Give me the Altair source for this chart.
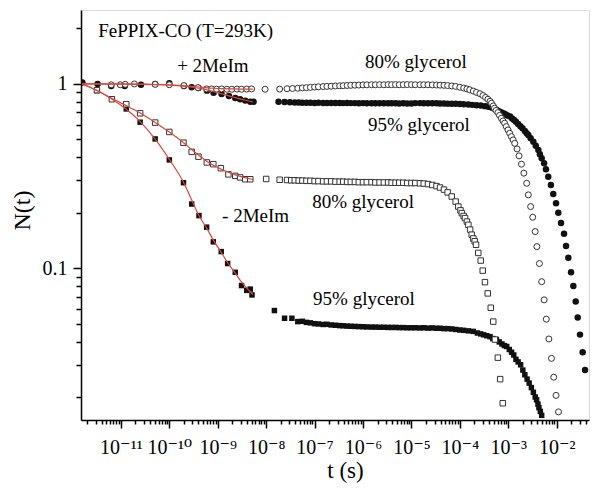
import json
import altair as alt
import pandas as pd

# ---------------- values ----------------
# fast time window (before the gap), t in s, N(t)
OC_EARLY_T = [6.3e-12, 9.7e-12, 1.23e-11, 1.9e-11, 5.1e-11, 1.0e-10, 2.0e-10, 3.9e-10, 5.9e-10,
              7.5e-10, 9.5e-10, 1.2e-9, 1.55e-9, 1.95e-9, 2.5e-9, 3.1e-9, 3.96e-9, 5.0e-9]
OC_EARLY_N = [0.99, 0.99, 0.995, 1.0, 0.995, 0.99, 0.98, 0.955, 0.94, 0.94, 0.937, 0.94, 0.936,
              0.936, 0.938, 0.936, 0.938, 0.94]
FC_EARLY_T = [1.6e-12, 3.3e-12, 6.3e-12, 1.2e-11, 2.6e-11, 5.1e-11, 1.0e-10, 2.0e-10, 2.9e-10,
              4.0e-10, 6.0e-10, 8.2e-10, 1.2e-9, 1.7e-9, 2.3e-9, 2.9e-9, 3.7e-9, 4.7e-9, 5.5e-9]
FC_EARLY_N = [1.02, 1.0, 0.975, 0.975, 0.99, 1.0, 1.01, 0.975, 0.96, 0.951, 0.92, 0.897, 0.883,
              0.861, 0.839, 0.826, 0.812, 0.80, 0.80]
OS_EARLY_T = [3.2e-12, 6.5e-12, 1.29e-11, 2.5e-11, 5.1e-11, 1.0e-10, 1.96e-10, 2.9e-10, 4.0e-10,
              5.95e-10, 8.1e-10, 1.16e-9, 1.66e-9, 2.3e-9, 2.9e-9, 3.7e-9, 4.7e-9]
OS_EARLY_N = [0.925, 0.826, 0.776, 0.693, 0.617, 0.549, 0.48, 0.428, 0.403, 0.375, 0.367, 0.349,
              0.323, 0.317, 0.311, 0.304, 0.304]
FS_EARLY_T = [1.5e-12, 3.2e-12, 6.5e-12, 1.29e-11, 2.5e-11, 5.1e-11, 1.0e-10, 1.96e-10, 2.9e-10,
              4.1e-10, 5.9e-10, 8.1e-10, 1.18e-9, 1.6e-9, 2.3e-9, 3.1e-9, 3.97e-9, 4.7e-9, 5.1e-9]
FS_EARLY_N = [1.016, 0.92, 0.829, 0.732, 0.62, 0.503, 0.387, 0.291, 0.223, 0.193, 0.167, 0.139,
              0.123, 0.106, 0.095, 0.0805, 0.0758, 0.077, 0.0716]

# slow window: first sparse points of each series
OC_LEAD_T = [9.5e-9, 1.9e-8, 2.7e-8, 3.5e-8, 4.5e-8]
OC_LEAD_N = [0.936, 0.938, 0.942, 0.945, 0.948]
FC_LEAD_T = [1.8e-8, 2.4e-8, 3.1e-8, 3.9e-8, 4.7e-8]
FC_LEAD_N = [0.80, 0.797, 0.795, 0.793, 0.792]
OS_LEAD_T = [1.0e-8, 1.9e-8, 2.7e-8, 3.3e-8, 3.9e-8, 4.7e-8]
OS_LEAD_N = [0.305, 0.302, 0.301, 0.300, 0.300, 0.299]
FS_LEAD_T = [1.48e-8, 2.4e-8, 3.4e-8, 4.5e-8]
FS_LEAD_N = [0.0589, 0.0535, 0.0535, 0.0513]

# slow window: plateau sampled on a common time grid
T_MID = [5.6e-8, 6.8e-8, 8.2e-8, 1.0e-7, 1.2e-7, 1.5e-7, 1.8e-7, 2.2e-7, 2.7e-7, 3.3e-7, 3.9e-7,
         4.7e-7, 5.6e-7, 6.8e-7, 8.2e-7, 1.0e-6, 1.2e-6, 1.5e-6, 1.8e-6, 2.2e-6, 2.7e-6, 3.3e-6,
         3.9e-6, 4.7e-6, 5.6e-6, 6.8e-6, 8.2e-6, 1.0e-5]
OC_MID_N = [0.952, 0.955, 0.958, 0.962, 0.965, 0.968, 0.97, 0.972, 0.975, 0.977, 0.979, 0.981,
            0.983, 0.985, 0.986, 0.988, 0.989, 0.99, 0.99, 0.991, 0.99, 0.992, 0.991, 0.992, 0.99,
            0.991, 0.992, 0.991]
FC_MID_N = [0.791, 0.79, 0.79, 0.789, 0.79, 0.789, 0.788, 0.789, 0.788, 0.788, 0.787, 0.788,
            0.787, 0.787, 0.786, 0.787, 0.786, 0.786, 0.786, 0.785, 0.786, 0.785, 0.785, 0.785,
            0.784, 0.785, 0.784, 0.784]
OS_MID_N = [0.299, 0.298, 0.298, 0.297, 0.297, 0.296, 0.296, 0.296, 0.295, 0.295, 0.295, 0.294,
            0.294, 0.294, 0.293, 0.293, 0.293, 0.293, 0.292, 0.292, 0.292, 0.292, 0.291, 0.291,
            0.291, 0.291, 0.29, 0.29]
FS_MID_N = [0.0515, 0.0508, 0.0505, 0.05, 0.0498, 0.0495, 0.0496, 0.0492, 0.049, 0.0488, 0.0487,
            0.0485, 0.0484, 0.0483, 0.0482, 0.0481, 0.048, 0.0479, 0.0479, 0.0478, 0.0478, 0.0477,
            0.0477, 0.0477, 0.0476, 0.0476, 0.0475, 0.0475]

# slow window: end of plateau and final decay
OC_TAIL_T = [1.2e-5, 1.5e-5, 1.8e-5, 2.2e-5, 2.7e-5, 3.3e-5, 3.9e-5, 4.7e-5, 5.6e-5, 6.8e-5, 8.2e-5,
             1.0e-4, 1.2e-4, 1.4e-4, 1.6e-4, 1.9e-4, 2.2e-4, 2.6e-4, 3.0e-4, 3.4e-4, 3.8e-4, 4.2e-4,
             4.5e-4, 4.9e-4, 5.2e-4, 5.6e-4, 6.1e-4, 6.6e-4, 7.2e-4, 7.8e-4, 8.4e-4, 9.1e-4, 9.9e-4,
             1.07e-3, 1.16e-3, 1.26e-3, 1.36e-3, 1.52e-3, 1.67e-3, 1.87e-3, 2.1e-3, 2.4e-3, 2.6e-3,
             2.9e-3, 3.2e-3, 3.6e-3, 3.9e-3, 4.4e-3, 4.9e-3, 5.5e-3, 6.1e-3, 6.9e-3, 7.8e-3, 8.7e-3,
             9.7e-3, 1.09e-2]
OC_TAIL_N = [0.99, 0.99, 0.99, 0.99, 0.988, 0.987, 0.985, 0.983, 0.98, 0.975, 0.97, 0.96, 0.95,
             0.94, 0.93, 0.915, 0.9, 0.885, 0.865, 0.845, 0.826, 0.805, 0.786, 0.76, 0.738, 0.718,
             0.699, 0.675, 0.651, 0.63, 0.612, 0.587, 0.563, 0.54, 0.518, 0.497, 0.476, 0.444, 0.407,
             0.367, 0.328, 0.289, 0.25, 0.216, 0.189, 0.158, 0.131, 0.106, 0.0845, 0.0673, 0.0529,
             0.0413, 0.0324, 0.0256, 0.0204, 0.0166]
FC_TAIL_T = [1.2e-5, 1.5e-5, 1.8e-5, 2.2e-5, 2.7e-5, 3.3e-5, 3.9e-5, 4.7e-5, 5.6e-5, 6.8e-5, 8.2e-5,
             1.0e-4, 1.2e-4, 1.5e-4, 1.8e-4, 2.2e-4, 2.7e-4, 3.3e-4, 3.8e-4, 4.2e-4, 4.7e-4, 5.2e-4,
             5.8e-4, 6.4e-4, 7.1e-4, 7.9e-4, 8.7e-4, 9.7e-4, 1.09e-3, 1.2e-3, 1.32e-3, 1.44e-3,
             1.6e-3, 1.78e-3, 1.97e-3, 2.2e-3, 2.4e-3, 2.6e-3, 2.9e-3, 3.3e-3, 3.7e-3, 4.18e-3,
             4.5e-3, 4.9e-3, 5.5e-3, 6.0e-3, 6.7e-3, 7.6e-3, 8.5e-3, 9.7e-3, 1.08e-2, 1.23e-2,
             1.42e-2, 1.56e-2, 1.74e-2, 1.98e-2, 2.21e-2, 2.47e-2, 2.72e-2, 3.03e-2, 3.44e-2, 3.85e-2]
FC_TAIL_N = [0.787, 0.787, 0.786, 0.786, 0.785, 0.785, 0.784, 0.783, 0.782, 0.781, 0.78, 0.778,
             0.776, 0.773, 0.77, 0.767, 0.763, 0.758, 0.755, 0.75, 0.742, 0.733, 0.722, 0.712, 0.703,
             0.694, 0.684, 0.675, 0.665, 0.65, 0.637, 0.624, 0.607, 0.59, 0.575, 0.555, 0.54, 0.528,
             0.508, 0.486, 0.462, 0.438, 0.415, 0.395, 0.371, 0.344, 0.314, 0.283, 0.253, 0.225, 0.2,
             0.176, 0.154, 0.132, 0.114, 0.095, 0.08, 0.066, 0.054, 0.0436, 0.035, 0.028]
OS_TAIL_T = [1.2e-5, 1.5e-5, 1.8e-5, 2.2e-5, 2.7e-5, 3.3e-5, 3.9e-5, 4.7e-5, 5.6e-5, 6.8e-5, 8.2e-5,
             9.3e-5, 1.03e-4, 1.1e-4, 1.2e-4, 1.28e-4, 1.4e-4, 1.5e-4, 1.63e-4, 1.76e-4, 1.9e-4,
             2.03e-4, 2.16e-4, 2.4e-4, 2.7e-4, 2.97e-4, 3.3e-4, 3.77e-4, 4.35e-4, 4.9e-4, 5.3e-4,
             6.1e-4, 6.8e-4, 7.7e-4]
OS_TAIL_N = [0.29, 0.289, 0.288, 0.286, 0.283, 0.279, 0.274, 0.267, 0.258, 0.245, 0.23, 0.216,
             0.206, 0.199, 0.192, 0.187, 0.179, 0.172, 0.162, 0.152, 0.145, 0.14, 0.134, 0.121, 0.11,
             0.097, 0.084, 0.073, 0.061, 0.0513, 0.041, 0.0327, 0.025, 0.0185]
FS_TAIL_T = [1.2e-5, 1.5e-5, 1.8e-5, 2.2e-5, 2.7e-5, 3.3e-5, 3.9e-5, 4.7e-5, 5.6e-5, 6.8e-5, 8.2e-5,
             1.0e-4, 1.2e-4, 1.5e-4, 1.9e-4, 2.3e-4, 2.7e-4, 3.1e-4, 3.6e-4, 4.2e-4, 4.8e-4, 5.7e-4,
             6.5e-4, 7.4e-4, 8.3e-4, 9.3e-4, 1.05e-3, 1.17e-3, 1.3e-3, 1.44e-3, 1.6e-3, 1.8e-3,
             2.0e-3, 2.2e-3, 2.45e-3, 2.7e-3, 3.0e-3, 3.3e-3, 3.6e-3, 3.85e-3, 4.1e-3, 4.3e-3,
             4.6e-3, 4.9e-3]
FS_TAIL_N = [0.0475, 0.0474, 0.0475, 0.0473, 0.0474, 0.0472, 0.0472, 0.047, 0.047, 0.0468, 0.0465,
             0.0462, 0.046, 0.0457, 0.0454, 0.0445, 0.044, 0.0435, 0.043, 0.0425, 0.0415, 0.041,
             0.0398, 0.0388, 0.038, 0.0376, 0.0362, 0.035, 0.0338, 0.032, 0.031, 0.0299, 0.028,
             0.0264, 0.025, 0.0238, 0.0225, 0.0212, 0.02, 0.0193, 0.0183, 0.0175, 0.0167, 0.0159]

# red fit curves over the fast window
FIT_OC_T = [1.6e-12, 1e-11, 3e-11, 1e-10, 2e-10, 3e-10, 5e-10, 8e-10, 1.2e-9, 2e-9, 3e-9, 5.3e-9]
FIT_OC_N = [1.0, 1.0, 0.997, 0.99, 0.98, 0.97, 0.958, 0.948, 0.943, 0.94, 0.938, 0.937]
FIT_FC_T = [1.6e-12, 1e-11, 3e-11, 1e-10, 2e-10, 3e-10, 5e-10, 8e-10, 1.2e-9, 1.7e-9, 2.4e-9,
            3.3e-9, 4.3e-9, 5.3e-9]
FIT_FC_N = [1.0, 0.998, 0.995, 0.985, 0.972, 0.96, 0.94, 0.912, 0.885, 0.862, 0.84, 0.822, 0.808,
            0.80]
FIT_OS_T = [1.6e-12, 3e-12, 6e-12, 1.2e-11, 2.5e-11, 5e-11, 1e-10, 2e-10, 3e-10, 4.3e-10, 6e-10,
            8.5e-10, 1.2e-9, 1.7e-9, 2.4e-9, 3.3e-9, 5.3e-9]
FIT_OS_N = [1.0, 0.93, 0.845, 0.77, 0.695, 0.62, 0.548, 0.478, 0.437, 0.405, 0.38, 0.36, 0.344,
            0.331, 0.32, 0.312, 0.303]
FIT_FS_T = [1.6e-12, 3e-12, 6e-12, 1.2e-11, 2.5e-11, 5e-11, 1e-10, 2e-10, 3e-10, 4e-10, 6e-10,
            8e-10, 1.2e-9, 1.6e-9, 2.3e-9, 3e-9, 4e-9, 5.3e-9]
FIT_FS_N = [1.0, 0.93, 0.84, 0.74, 0.625, 0.505, 0.39, 0.29, 0.23, 0.195, 0.164, 0.143, 0.121,
            0.107, 0.094, 0.085, 0.078, 0.072]

# annotations (left edge, baseline)
ANN_TEXT = ["FePPIX-CO (T=293K)", "+ 2MeIm", "- 2MeIm", "80% glycerol", "95% glycerol",
            "80% glycerol", "95% glycerol"]
ANN_T = [3.4e-12, 1.45e-10, 1.23e-9, 1.1e-6, 1.27e-6, 8.9e-8, 9.3e-8]
ANN_N = [1.8, 1.162, 0.178, 1.221, 0.556, 0.212, 0.0632]

X_DOMAIN = [1.5e-12, 4.65e-2]
Y_DOMAIN = [0.015, 2.52]
SUPERS = ["⁻¹²", "⁻¹¹", "⁻¹⁰", "⁻⁹", "⁻⁸", "⁻⁷", "⁻⁶", "⁻⁵", "⁻⁴", "⁻³", "⁻²"]
MANTISSAS = [1, 2, 3, 4, 5, 6, 7, 8, 9]

FONT = "'Liberation Serif', 'Times New Roman', 'DejaVu Serif', serif"


def frame(ts, ns):
    t, n = [], []
    for a, b in zip(ts, ns):
        t += a
        n += b
    return pd.DataFrame({"t": t, "N": n})


oc = frame([OC_EARLY_T, OC_LEAD_T, T_MID, OC_TAIL_T], [OC_EARLY_N, OC_LEAD_N, OC_MID_N, OC_TAIL_N])
fc = frame([FC_EARLY_T, FC_LEAD_T, T_MID, FC_TAIL_T], [FC_EARLY_N, FC_LEAD_N, FC_MID_N, FC_TAIL_N])
os_ = frame([OS_EARLY_T, OS_LEAD_T, T_MID, OS_TAIL_T], [OS_EARLY_N, OS_LEAD_N, OS_MID_N, OS_TAIL_N])
fs = frame([FS_EARLY_T, FS_LEAD_T, T_MID, FS_TAIL_T], [FS_EARLY_N, FS_LEAD_N, FS_MID_N, FS_TAIL_N])
fits = pd.concat([
    pd.DataFrame({"t": FIT_OC_T, "N": FIT_OC_N, "fit": "oc"}),
    pd.DataFrame({"t": FIT_FC_T, "N": FIT_FC_N, "fit": "fc"}),
    pd.DataFrame({"t": FIT_OS_T, "N": FIT_OS_N, "fit": "os"}),
    pd.DataFrame({"t": FIT_FS_T, "N": FIT_FS_N, "fit": "fs"}),
])
ann = pd.DataFrame({"t": ANN_T, "N": ANN_N, "label": ANN_TEXT})

x_ticks = [m * 10.0 ** e for e in range(-12, -1) for m in MANTISSAS
           if X_DOMAIN[0] <= m * 10.0 ** e <= X_DOMAIN[1]]
y_ticks = [m * 10.0 ** e for e in range(-2, 1) for m in MANTISSAS
           if Y_DOMAIN[0] <= m * 10.0 ** e <= Y_DOMAIN[1]]

LOGV = "(log(datum.value)/LN10)"
MAJOR = f"abs({LOGV} - round({LOGV})) < 0.01"
x_label_expr = (f"{MAJOR} ? '10' + {json.dumps(SUPERS, ensure_ascii=False)}"
                f"[round({LOGV}) + 12] : ''")
y_label_expr = "abs(datum.value - 1) < 1e-6 ? '1' : (abs(datum.value - 0.1) < 1e-7 ? '0.1' : '')"

x_axis = alt.Axis(
    values=x_ticks, labelExpr=x_label_expr, grid=False, title="t (s)",
    tickSize={"condition": {"test": MAJOR, "value": 8}, "value": 4},
    tickWidth=1.5, tickColor="black", domainColor="black", domainWidth=1.5,
    labelFont=FONT, labelFontSize=20, labelColor="black", labelOverlap=False, labelFlush=False,
    labelBaseline="alphabetic", labelPadding=25,
    titleFont=FONT, titleFontSize=23, titleFontWeight="normal", titleColor="black",
    titleX=264, titleY=57, titleAlign="center", titleBaseline="alphabetic",
)
y_axis = alt.Axis(
    values=y_ticks, labelExpr=y_label_expr, grid=False, title="N(t)",
    tickSize={"condition": {"test": MAJOR, "value": 8}, "value": 5},
    tickWidth=1.5, tickColor="black", domainColor="black", domainWidth=1.5,
    labelFont=FONT, labelFontSize=20, labelColor="black", labelOverlap=False, labelFlush=False,
    labelPadding=6, labelBaseline="middle",
    titleFont=FONT, titleFontSize=24, titleFontWeight="normal", titleColor="black",
    titleX=-52, titleY=200, titleAngle=270, titleAlign="center", titleBaseline="alphabetic",
)

X = alt.X("t:Q", scale=alt.Scale(type="log", domain=X_DOMAIN, nice=False), axis=x_axis)
Y = alt.Y("N:Q", scale=alt.Scale(type="log", domain=Y_DOMAIN, nice=False), axis=y_axis)

fs_layer = alt.Chart(fs).mark_point(shape="square", filled=True, fill="#111111", size=30,
                                    opacity=1, clip=True).encode(x=X, y=Y)
fc_layer = alt.Chart(fc).mark_point(shape="circle", filled=True, fill="#111111", size=42,
                                    opacity=1, clip=True).encode(x=X, y=Y)
os_layer = alt.Chart(os_).mark_point(shape="square", filled=True, fill="white", stroke="#333333",
                                     strokeWidth=1, size=30, opacity=1, clip=True).encode(x=X, y=Y)
oc_layer = alt.Chart(oc).mark_point(shape="circle", filled=True, fill="white", stroke="#333333",
                                    strokeWidth=1, size=36, opacity=1, clip=True).encode(x=X, y=Y)
fit_layer = alt.Chart(fits).mark_line(color="#d9463b", strokeWidth=1.2, interpolate="monotone",
                                      clip=True).encode(x=X, y=Y, detail="fit:N")
text_layer = alt.Chart(ann).mark_text(align="left", baseline="alphabetic", font=FONT, fontSize=19,
                                      color="black").encode(x=X, y=Y, text="label:N")

chart = alt.layer(fs_layer, fc_layer, os_layer, oc_layer, fit_layer, text_layer).properties(
    width=508, height=410,
    autosize=alt.AutoSizeParams(type="none"),
    padding={"left": 73, "top": 2, "right": 4, "bottom": 70},
).configure_view(stroke="black", strokeWidth=1.5).configure(background="white")

chart.save("out.html", embed_options={"renderer": "svg", "actions": False})
